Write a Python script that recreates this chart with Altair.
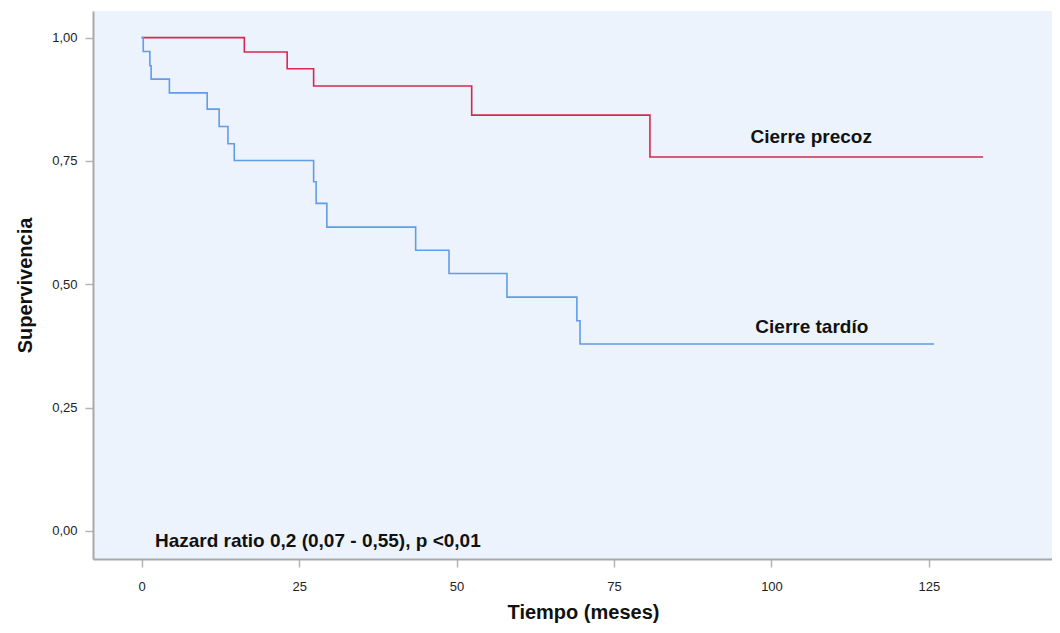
import altair as alt
import pandas as pd

# Kaplan-Meier steps
precoz_t = [0, 16.3, 23.1, 27.3, 52.4, 80.7, 133.6]
precoz_s = [1.0, 0.971, 0.937, 0.902, 0.843, 0.758, 0.758]

tardio_t = [0, 0.25, 1.3, 1.5, 4.4, 10.4, 12.3, 13.7, 14.7, 27.3, 27.7, 29.4,
            43.5, 48.8, 58.0, 69.1, 69.6, 125.8]
tardio_s = [1.0, 0.972, 0.943, 0.916, 0.888, 0.855, 0.820, 0.785, 0.751, 0.708,
            0.664, 0.616, 0.569, 0.522, 0.474, 0.426, 0.379, 0.379]

groups = ["Cierre precoz", "Cierre tardío"]
colors = ["#d8274f", "#5f9de9"]
label_t = [106.3, 106.4]
label_s = [0.799, 0.4135]

hr_text = "Hazard ratio 0,2 (0,07 - 0,55), p <0,01"
x_ticks = [0, 25, 50, 75, 100, 125]
y_ticks = [0, 0.25, 0.5, 0.75, 1.0]

df = pd.concat([
    pd.DataFrame({"t": precoz_t, "s": precoz_s, "g": groups[0]}),
    pd.DataFrame({"t": tardio_t, "s": tardio_s, "g": groups[1]}),
])
lab = pd.DataFrame({"t": label_t, "s": label_s, "g": groups})

xs = alt.Scale(domain=[-7.73, 144.54], nice=False, zero=False)
ys = alt.Scale(domain=[-0.0568, 1.054], nice=False, zero=False)
cs = alt.Scale(domain=groups, range=colors)

x_axis = alt.Axis(values=x_ticks, format="d", grid=False, title="Tiempo (meses)",
                  domainColor="#a8a8a8", domainWidth=2, tickColor="#b4b4b4",
                  tickSize=8, tickWidth=1.5, labelFontSize=13, labelColor="#222222",
                  labelPadding=13, labelBaseline="top", labelFont="Liberation Sans",
                  titleFont="Liberation Sans", titleFontSize=20, titleFontWeight="bold",
                  titleColor="#111111", titleX=490, titleY=59, titleAlign="center",
                  titleBaseline="alphabetic")
y_axis = alt.Axis(values=y_ticks, grid=False, title="Supervivencia",
                  labelExpr="replace(format(datum.value, '.2f'), '.', ',')",
                  domainColor="#a8a8a8", domainWidth=2, tickColor="#b4b4b4",
                  tickSize=8, tickWidth=1.5, labelFontSize=13, labelColor="#222222",
                  labelPadding=8, labelFont="Liberation Sans",
                  titleFont="Liberation Sans", titleFontSize=20, titleFontWeight="bold",
                  titleColor="#111111", titleX=-68, titleY=274, titleAngle=270,
                  titleAlign="center", titleBaseline="middle")

lines = alt.Chart(df).mark_line(interpolate="step-after", strokeWidth=1.6).encode(
    x=alt.X("t:Q", scale=xs, axis=x_axis),
    y=alt.Y("s:Q", scale=ys, axis=y_axis),
    color=alt.Color("g:N", scale=cs, legend=None),
    detail="g:N",
)

labels = alt.Chart(lab).mark_text(font="Liberation Sans", fontSize=19, fontWeight="bold",
                                  color="#111111", align="center", baseline="middle").encode(
    x=alt.X("t:Q", scale=xs), y=alt.Y("s:Q", scale=ys), text="g:N")

hr = alt.Chart().mark_text(font="Liberation Sans", fontSize=19, fontWeight="bold",
                           color="#111111", align="left", baseline="middle").encode(
    x=alt.datum(2.1, scale=xs), y=alt.datum(-0.02, scale=ys), text=alt.value(hr_text))

chart = alt.layer(lines, labels, hr).properties(
    width=959, height=548, autosize="none",
    padding={"left": 85, "top": 3, "right": 0, "bottom": 66},
    background="white",
).configure_view(fill="#edf3fd", stroke=None)

chart.save("out.html", embed_options={"renderer": "svg", "actions": False})
